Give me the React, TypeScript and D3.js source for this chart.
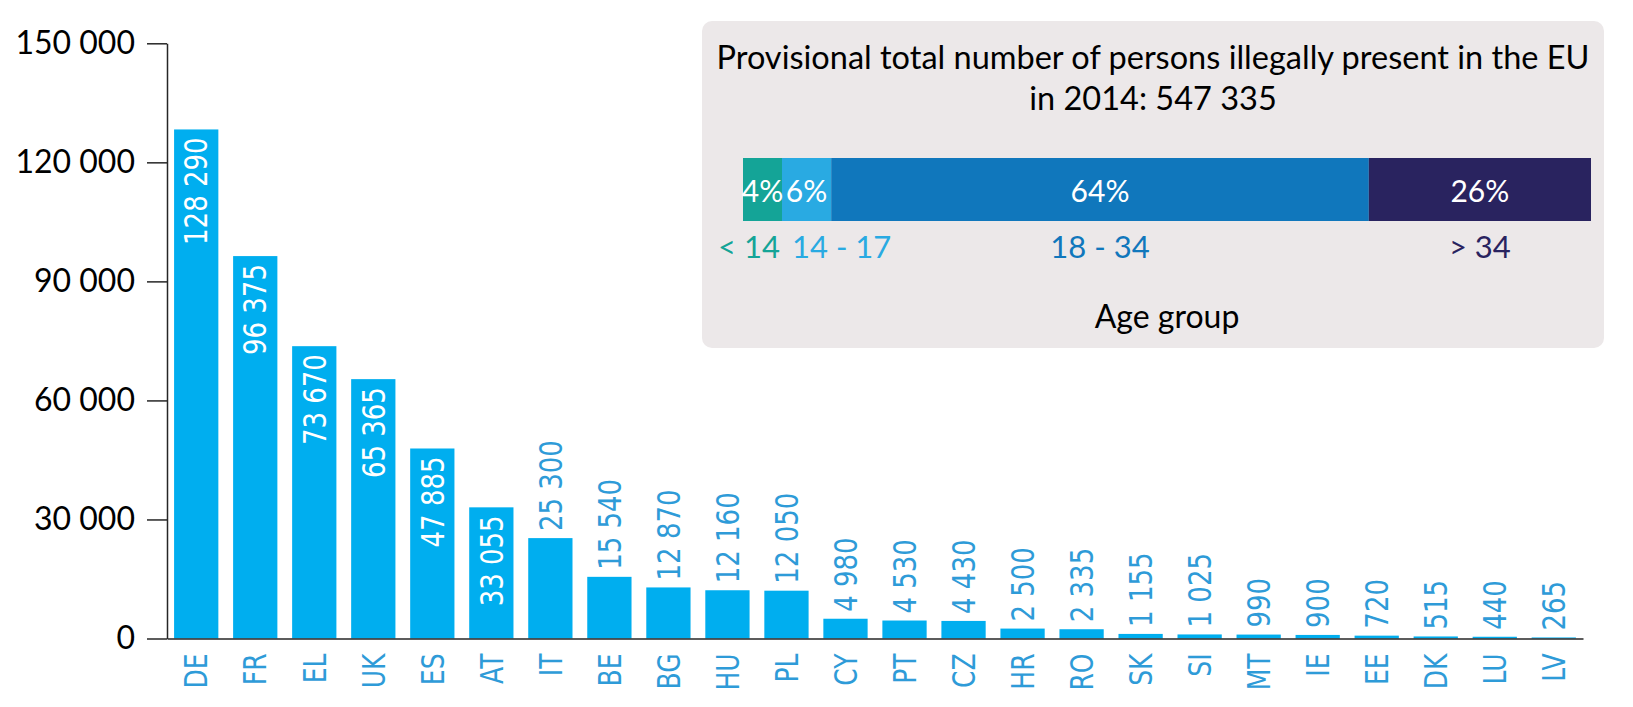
import * as d3 from 'd3';
import { useEffect, useRef } from 'react';

// persons illegally present, 2014, by member state
const countries = ['DE', 'FR', 'EL', 'UK', 'ES', 'AT', 'IT', 'BE', 'BG', 'HU', 'PL', 'CY', 'PT', 'CZ', 'HR', 'RO', 'SK', 'SI', 'MT', 'IE', 'EE', 'DK', 'LU', 'LV'];
const persons = [128290, 96375, 73670, 65365, 47885, 33055, 25300, 15540, 12870, 12160, 12050, 4980, 4530, 4430, 2500, 2335, 1155, 1025, 990, 900, 720, 515, 440, 265];
const yTicks = [0, 30000, 60000, 90000, 120000, 150000];

// age breakdown (inset)
const titleLines = ['Provisional total number of persons illegally present in the EU', 'in 2014: 547 335'];
const ageGroups = ['< 14', '14 - 17', '18 - 34', '> 34'];
const ageShares = [4.6, 5.8, 63.4, 26.2];
const ageLabels = ['4%', '6%', '64%', '26%'];
const ageAxisLabel = 'Age group';

const WIDTH = 1633;
const HEIGHT = 707;
const BAR = '#00aeef';
const LABEL_BLUE = '#2e9bd8';
const AGE_COLORS = ['#14a497', '#29aae2', '#1077bc', '#29235f'];
const CALIBRI = 'Lato, "Open Sans", sans-serif';
const VERDANA = '"DejaVu Sans", Verdana, sans-serif';

const fmt = d3.formatLocale({ decimal: '.', thousands: ' ', grouping: [3], currency: ['', ''] }).format(',d');

export default function App() {
  const svgRef = useRef<SVGSVGElement>(null);

  useEffect(() => {
    if (!svgRef.current) return;
    const svg = d3.select(svgRef.current);
    svg.selectAll('*').remove();

    const x = d3.scaleBand().domain(countries).range([167, 1583]).paddingInner(0.25).paddingOuter(0.12);
    const y = d3.scaleLinear().domain([0, 150000]).range([638.5, 43.3]);

    const data = countries.map((c, i) => ({ country: c, value: persons[i] }));

    // bars
    svg.append('g')
      .selectAll('rect')
      .data(data)
      .join('rect')
      .attr('x', d => x(d.country) ?? 0)
      .attr('y', d => y(d.value))
      .attr('width', x.bandwidth())
      .attr('height', d => y(0) - y(d.value))
      .attr('fill', BAR);

    // y axis
    const yAxis = svg.append('g')
      .attr('transform', `translate(${x.range()[0]},0)`)
      .call(d3.axisLeft(y).tickValues(yTicks).tickSize(20).tickSizeOuter(0).tickFormat(d => fmt(d as number)));
    yAxis.selectAll('path, line').attr('stroke', '#262626').attr('stroke-width', 1.5);
    yAxis.selectAll('text')
      .attr('x', -32)
      .style('font-family', CALIBRI)
      .style('font-size', '32px')
      .attr('fill', '#000');

    // x axis
    const xAxis = svg.append('g')
      .attr('transform', `translate(0,${y(0)})`)
      .call(d3.axisBottom(x).tickSize(0).tickSizeOuter(0));
    xAxis.select('.domain').attr('stroke', '#262626').attr('stroke-width', 1.5);
    xAxis.selectAll('text')
      .attr('x', 0)
      .attr('y', 0)
      .attr('dy', '0.36em')
      .attr('transform', 'translate(0,15) rotate(-90) scale(1,1.25)')
      .attr('text-anchor', 'end')
      .style('font-family', VERDANA)
      .style('font-size', '25px')
      .attr('fill', LABEL_BLUE);

    // value labels: inside the bar when it fits, above it otherwise
    const labels = svg.append('g')
      .selectAll('g')
      .data(data)
      .join('g')
      .attr('transform', d => `translate(${(x(d.country) ?? 0) + x.bandwidth() / 2},${y(d.value)})`);
    labels.each(function (d) {
      const t = d3.select(this)
        .append('text')
        .attr('dy', '0.36em')
        .style('font-family', VERDANA)
        .style('font-size', '26px')
        .text(fmt(d.value));
      const len = (t.node() as SVGTextElement).getComputedTextLength();
      const inside = y(0) - y(d.value) >= len + 16;
      t.attr('transform', inside ? 'translate(0,8) rotate(-90) scale(1,1.2)' : 'translate(0,-7) rotate(-90) scale(1,1.2)')
        .attr('text-anchor', inside ? 'end' : 'start')
        .attr('fill', inside ? '#fff' : LABEL_BLUE);
    });

    // inset panel
    const box = { x: 702, y: 21, w: 902, h: 327 };
    const inset = svg.append('g');
    inset.append('rect')
      .attr('x', box.x)
      .attr('y', box.y)
      .attr('width', box.w)
      .attr('height', box.h)
      .attr('rx', 10)
      .attr('fill', '#ece8e9');

    inset.selectAll('text.title')
      .data(titleLines)
      .join('text')
      .attr('class', 'title')
      .attr('x', box.x + box.w / 2)
      .attr('y', (_, i) => 69 + i * 41)
      .attr('text-anchor', 'middle')
      .style('font-family', CALIBRI)
      .style('font-size', '32.5px')
      .attr('fill', '#000')
      .text(d => d);

    const starts = ageShares.map((_, i) => d3.sum(ageShares.slice(0, i)));
    const ax = d3.scaleLinear().domain([0, d3.sum(ageShares)]).range([743, 1591]);
    const segs = ageGroups.map((g, i) => ({ group: g, label: ageLabels[i], x0: ax(starts[i]), x1: ax(starts[i] + ageShares[i]), color: AGE_COLORS[i] }));

    inset.selectAll('rect.seg')
      .data(segs)
      .join('rect')
      .attr('class', 'seg')
      .attr('x', d => d.x0)
      .attr('y', 158)
      .attr('width', d => d.x1 - d.x0)
      .attr('height', 63)
      .attr('fill', d => d.color);

    inset.selectAll('text.pct')
      .data(segs)
      .join('text')
      .attr('class', 'pct')
      .attr('x', d => (d.x0 + d.x1) / 2)
      .attr('y', 202)
      .attr('text-anchor', 'middle')
      .style('font-family', CALIBRI)
      .style('font-size', '30px')
      .attr('fill', '#fff')
      .text(d => d.label);

    // narrow segments push their group label outward so the two don't collide
    inset.selectAll('text.grp')
      .data(segs)
      .join('text')
      .attr('class', 'grp')
      .attr('x', (d, i) => (i === 0 ? d.x1 - 2 : i === 1 ? d.x0 + 10 : (d.x0 + d.x1) / 2))
      .attr('y', 258)
      .attr('text-anchor', (_, i) => (i === 0 ? 'end' : i === 1 ? 'start' : 'middle'))
      .style('font-family', CALIBRI)
      .style('font-size', '31px')
      .attr('fill', d => d.color)
      .text(d => d.group);

    inset.append('text')
      .attr('x', (ax.range()[0] + ax.range()[1]) / 2)
      .attr('y', 328)
      .attr('text-anchor', 'middle')
      .style('font-family', CALIBRI)
      .style('font-size', '32px')
      .attr('fill', '#000')
      .text(ageAxisLabel);
  }, []);

  return (
    <div>
      <style>{'body{margin:0}'}</style>
      <svg ref={svgRef} width={WIDTH} height={HEIGHT} style={{ display: 'block', background: '#fff' }} />
    </div>
  );
}
